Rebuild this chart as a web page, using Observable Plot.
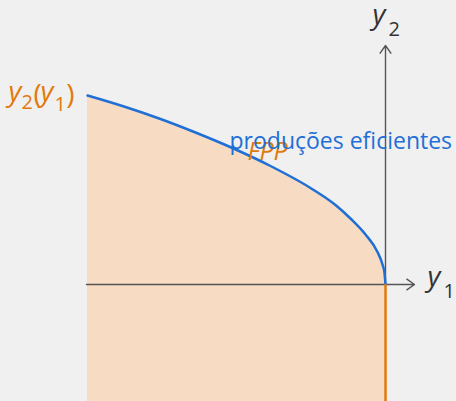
<!DOCTYPE html>
<html>
<head>
<meta charset="utf-8">
<script src="https://cdn.jsdelivr.net/npm/d3@7"></script>
<script src="https://cdn.jsdelivr.net/npm/@observablehq/plot@0.6"></script>
<style>
  html, body { margin: 0; padding: 0; background: #f0f0f0; }
  #chart svg { display: block; }
</style>
</head>
<body>
<div id="chart"></div>
<script>
// Frontier of efficient productions
const y1Values = [-29.8, -26, -22.5, -19, -15.2, -11.5, -7.5, -5, -3.5, -2, -0.8, -0.3, -0.1, 0];
const y2Values = [18.9, 17.75, 16.55, 15.2, 13.6, 11.85, 9.65, 7.95, 6.6, 5.0, 3.25, 2.0, 1.15, 0];
// Axis extents
const xAxisExtent = [-29.9, 2.9];
const yAxisExtent = [0, 23.9];
const xDomain = [-38.5, 7.1];
const yDomain = [-11.7, 28.4];
// Labels
const frontierLabel = "produções eficientes";
const fppLabel = "FPP";

const frontier = y1Values.map((v, i) => ({y1: v, y2: y2Values[i]}));
const start = frontier[0];
const mid = frontier[4];

const blue = "#1f6fd6";
const orange = "#e07a0c";
const fill = "#f7dbc2";
const axisGray = "#555";
const textGray = "#333";
const font = "'Open Sans', 'Noto Sans', sans-serif";

const main = 28, sub = 20;

function lab(text, anchor, dx, dy, opts = {}) {
  return Plot.text([anchor], {
    x: "y1", y: "y2", text: () => text, dx, dy,
    textAnchor: opts.anchor || "start", lineAnchor: "bottom",
    fontSize: opts.size || main, fill: opts.fill || textGray,
    fontStyle: opts.italic ? "italic" : "normal",
    fontFamily: font
  });
}

const xTip = {y1: xAxisExtent[1], y2: 0};
const yTip = {y1: 0, y2: yAxisExtent[1]};

const plot = Plot.plot({
  width: 456, height: 401,
  margin: 0,
  x: {domain: xDomain, axis: null},
  y: {domain: yDomain, axis: null},
  style: {background: "transparent", overflow: "visible", fontFamily: font},
  marks: [
    Plot.areaY(frontier, {x: "y1", y1: yDomain[0], y2: "y2", fill: fill, curve: "monotone-x"}),
    Plot.arrow([{a: xAxisExtent[0], b: xAxisExtent[1]}], {
      x1: "a", x2: "b", y1: 0, y2: 0, stroke: axisGray, strokeWidth: 1.4, headLength: 10, headAngle: 70, bend: 0
    }),
    Plot.arrow([{a: yAxisExtent[0], b: yAxisExtent[1]}], {
      x1: 0, x2: 0, y1: "a", y2: "b", stroke: axisGray, strokeWidth: 1.4, headLength: 10, headAngle: 70, bend: 0
    }),
    Plot.line(frontier, {x: "y1", y: "y2", stroke: blue, strokeWidth: 2.5, curve: "monotone-x"}),
    Plot.ruleX([0], {y1: 0, y2: yDomain[0], stroke: orange, strokeWidth: 2.5}),
    // y2 at top of vertical axis
    lab("y", yTip, -13, -22, {italic: true}),
    lab("2", yTip, 3, -10, {size: sub}),
    // y1 at end of horizontal axis
    lab("y", xTip, 13, 1, {italic: true}),
    lab("1", xTip, 29, 13, {size: sub}),
    // y2(y1) at start of frontier
    lab("y", start, -79, 5, {italic: true, fill: orange}),
    lab("2", start, -66, 13, {size: sub, fill: orange}),
    lab("(", start, -54, 8, {fill: orange}),
    lab("y", start, -47, 5, {italic: true, fill: orange}),
    lab("1", start, -33, 15, {size: sub, fill: orange}),
    lab(")", start, -13, 8, {anchor: "end", fill: orange}),
    // frontier labels
    lab(fppLabel, mid, 14, 11, {italic: true, size: 25, fill: orange}),
    lab(frontierLabel, mid, -4, 0, {size: 23, fill: blue})
  ]
});
document.getElementById("chart").appendChild(plot);
</script>
</body>
</html>
